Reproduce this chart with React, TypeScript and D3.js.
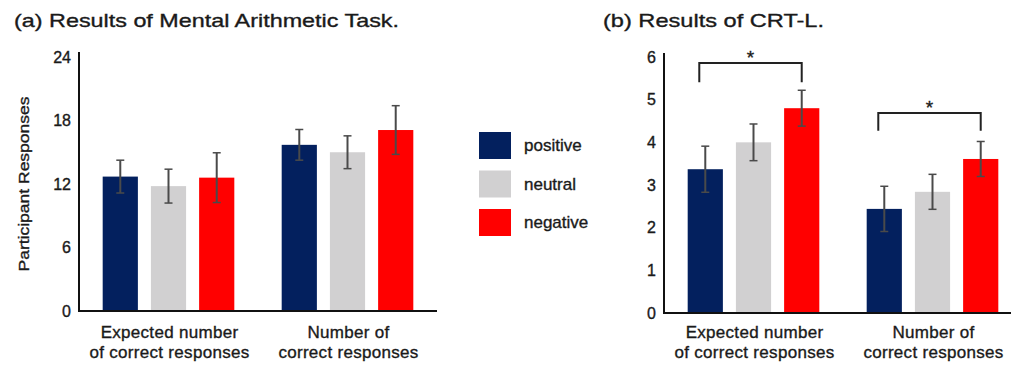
import React from "react";
import * as d3 from "d3";

const groups = [["Expected number", "of correct responses"], ["Number of", "correct responses"]];
const series = ["positive", "neutral", "negative"];
const colors = ["#03205e", "#d1d0d1", "#ff0000"];

// (a) Mental arithmetic task
const mathMeans = [
  [12.7, 15.7],
  [11.8, 15.0],
  [12.6, 17.1],
];
const mathErr = [
  [1.55, 1.45],
  [1.6, 1.55],
  [2.35, 2.3],
];
const mathTicks = [0, 6, 12, 18, 24];

// (b) CRT-L
const crtMeans = [
  [3.37, 2.44],
  [4.0, 2.84],
  [4.8, 3.61],
];
const crtErr = [
  [0.54, 0.53],
  [0.43, 0.41],
  [0.42, 0.41],
];
const crtTicks = [0, 1, 2, 3, 4, 5, 6];
const sigBrackets = [
  { group: 0, top: 5.86, leg: 5.41 },
  { group: 1, top: 4.69, leg: 4.27 },
];

const FONT = "'Liberation Sans', Arial, sans-serif";
const TXT = "#1a1a1a";
const thick = { stroke: TXT, strokeWidth: 0.35 };

type PanelProps = {
  means: number[][];
  errs: number[][];
  ticks: number[];
  yMax: number;
  x0: number;
  x1: number;
  yBase: number;
  yTop: number;
  axisTop: number;
  axisEnd: number;
  brackets?: { group: number; top: number; leg: number }[];
};

function Panel(p: PanelProps) {
  const gx = d3.scaleBand<number>().domain([0, 1]).range([p.x0, p.x1]).paddingInner(0.2).paddingOuter(0.1);
  const sx = d3
    .scaleBand<number>()
    .domain([0, 1, 2])
    .range([0, gx.bandwidth()])
    .paddingInner(0.27)
    .paddingOuter(0.12);
  const y = d3.scaleLinear().domain([0, p.yMax]).range([p.yBase, p.yTop]);
  const bw = sx.bandwidth();
  const errColor = "#4a4a4a";
  return (
    <g>
      {series.map((s, si) =>
        [0, 1].map((g) => {
          const v = p.means[si][g];
          const e = p.errs[si][g];
          const bx = (gx(g) as number) + (sx(si) as number);
          const cx = bx + bw / 2;
          return (
            <g key={s + g}>
              <rect x={bx} y={y(v)} width={bw} height={y(0) - y(v)} fill={colors[si]} />
              <line x1={cx} x2={cx} y1={y(v + e)} y2={y(v - e)} stroke={errColor} strokeWidth={2} />
              <line x1={cx - 4} x2={cx + 4} y1={y(v + e)} y2={y(v + e)} stroke={errColor} strokeWidth={1.5} />
              <line x1={cx - 4} x2={cx + 4} y1={y(v - e)} y2={y(v - e)} stroke={errColor} strokeWidth={1.5} />
            </g>
          );
        })
      )}
      <line x1={p.x0} x2={p.x0} y1={p.axisTop} y2={p.yBase + 1} stroke="#111" strokeWidth={2} />
      <line x1={p.x0 - 1} x2={p.axisEnd} y1={p.yBase} y2={p.yBase} stroke="#111" strokeWidth={2} />
      {p.ticks.map((t) => (
        <text
          key={t}
          x={p.x0 - 8}
          y={y(t)}
          dy="0.36em"
          textAnchor="end"
          fontFamily={FONT}
          fontSize={16}
          fill={TXT}
          {...thick}
        >
          {t}
        </text>
      ))}
      {groups.map((lines, g) => {
        const cx = (gx(g) as number) + gx.bandwidth() / 2;
        return (
          <text
            key={g}
            textAnchor="middle"
            fontFamily={FONT}
            fontSize={17}
            letterSpacing={0.3}
            fill={TXT}
            {...thick}
          >
            <tspan x={cx + 1} y={338}>
              {lines[0]}
            </tspan>
            <tspan x={cx + 1} y={358}>
              {lines[1]}
            </tspan>
          </text>
        );
      })}
      {(p.brackets || []).map((b, i) => {
        const left = (gx(b.group) as number) + (sx(0) as number) + bw / 2 - 6;
        const right = (gx(b.group) as number) + (sx(2) as number) + bw / 2;
        const yt = y(b.top);
        const yl = y(b.leg);
        return (
          <g key={i}>
            <path
              d={`M${left},${yl} V${yt} H${right} V${yl}`}
              fill="none"
              stroke="#222"
              strokeWidth={2}
            />
            <text
              x={(left + right) / 2}
              y={yt + 1}
              textAnchor="middle"
              fontFamily={FONT}
              fontSize={19}
              fill={TXT}
              {...thick}
            >
              *
            </text>
          </g>
        );
      })}
    </g>
  );
}

export default function App() {
  return (
    <svg
      width={1011}
      height={365}
      style={{ position: "absolute", left: 0, top: 0, background: "#fff" }}
    >
      <rect width={1011} height={365} fill="#fff" />
      <text
        x={14}
        y={27}
        fontFamily={FONT}
        fontSize={19}
        fill={TXT}
        {...thick}
        textLength={385}
        lengthAdjust="spacingAndGlyphs"
      >
        (a) Results of Mental Arithmetic Task.
      </text>
      <text
        x={603}
        y={27}
        fontFamily={FONT}
        fontSize={19}
        fill={TXT}
        {...thick}
        textLength={221}
        lengthAdjust="spacingAndGlyphs"
      >
        (b) Results of CRT-L.
      </text>
      <text
        transform="translate(29,184) rotate(-90)"
        textAnchor="middle"
        fontFamily={FONT}
        fontSize={15}
        fill={TXT}
        {...thick}
        textLength={175}
        lengthAdjust="spacingAndGlyphs"
      >
        Participant Responses
      </text>
      <Panel
        means={mathMeans}
        errs={mathErr}
        ticks={mathTicks}
        yMax={24}
        x0={79}
        x1={437}
        yBase={311}
        yTop={57}
        axisTop={52}
        axisEnd={437}
      />
      <Panel
        means={crtMeans}
        errs={crtErr}
        ticks={crtTicks}
        yMax={6}
        x0={664}
        x1={1022}
        yBase={313}
        yTop={57}
        axisTop={53}
        axisEnd={1011}
        brackets={sigBrackets}
      />
      {series.map((s, i) => (
        <g key={s}>
          <rect x={479} y={132 + i * 38.5} width={32} height={27} fill={colors[i]} />
          <text x={524} y={151 + i * 38.5} fontFamily={FONT} fontSize={17} fill={TXT} {...thick}>
            {s}
          </text>
        </g>
      ))}
    </svg>
  );
}
